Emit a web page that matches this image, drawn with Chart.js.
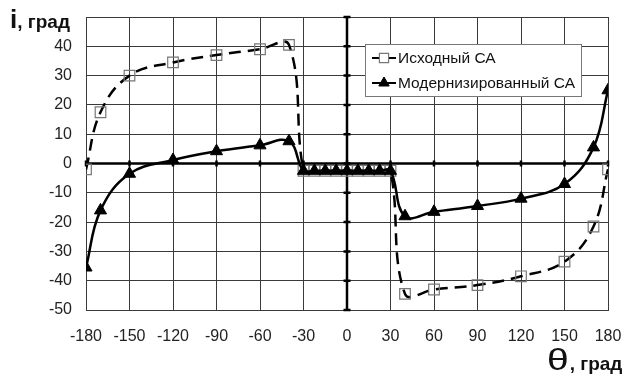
<!DOCTYPE html>
<html>
<head>
<meta charset="utf-8">
<script src="https://cdn.jsdelivr.net/npm/chart.js@4.4.1/dist/chart.umd.min.js"></script>
<style>
  html, body { margin: 0; padding: 0; background: #fff; }
  #wrap { position: relative; width: 635px; height: 376px; }
  canvas { position: absolute; left: 0; top: 0; }
  .ttl { position: absolute; font-family: "Liberation Sans", Arial, sans-serif; font-weight: bold; color: #111; white-space: nowrap; line-height: 1; }
  .th { display: inline-block; font-size: 30px; font-weight: normal; transform: scaleX(1.3); transform-origin: left center; margin-right: 6px; }
</style>
</head>
<body>
<div id="wrap">
  <canvas id="c" width="635" height="376"></canvas>
  <div class="ttl" style="left:10px; top:6px;"><span style="font-size:26px;">i</span><span style="font-size:19px;">, град</span></div>
  <div class="ttl" style="left:547px; top:345px;"><span class="th">θ</span><span style="font-size:19px;">, град</span></div>
</div>
<script>
// ---- data ----
const seriesLabels = ["Исходный СА", "Модернизированный СА"];
const thetaOriginal = [-180, -170, -150, -120, -90, -60, -40, -30, -22.5, -15, -7.5, 0, 7.5, 15, 22.5, 30, 40, 60, 90, 120, 150, 170, 180];
const iOriginal     = [-2, 17.5, 30, 34.5, 37, 39, 40.5, -2.5, -2.5, -2.5, -2.5, -2.5, -2.5, -2.5, -2.5, -2.5, -44.5, -43, -41.5, -38.5, -33.5, -21.5, -2];
const thetaModern   = [-180, -170, -150, -120, -90, -60, -40, -30, -22.5, -15, -7.5, 0, 7.5, 15, 22.5, 30, 40, 60, 90, 120, 150, 170, 180];
const iModern       = [-35.5, -16, -3.5, 1.2, 4.2, 6.2, 7.6, -2.5, -2.5, -2.5, -2.5, -2.5, -2.5, -2.5, -2.5, -2.5, -18, -16.5, -14.5, -12, -7, 5.5, 25];
const xTicks = [-180, -150, -120, -90, -60, -30, 0, 30, 60, 90, 120, 150, 180];
const yTicks = [-50, -40, -30, -20, -10, 0, 10, 20, 30, 40, 50];

const toPts = (xs, ys) => xs.map((x, k) => ({ x: x, y: ys[k] }));
const FONT = '"Liberation Sans", Arial, sans-serif';

// the two thick zero axes with their small tick marks
const axesPlugin = {
  id: 'axesPlugin',
  beforeDatasetsDraw(chart) {
    const { ctx, chartArea: a, scales: { x, y } } = chart;
    ctx.save();
    ctx.setLineDash([]);
    const x0 = x.getPixelForValue(0), y0 = y.getPixelForValue(0);
    ctx.strokeStyle = '#000';
    ctx.lineWidth = 2.5;
    ctx.beginPath();
    ctx.moveTo(x0, a.top); ctx.lineTo(x0, a.bottom);
    ctx.moveTo(a.left, y0); ctx.lineTo(a.right, y0);
    ctx.stroke();
    ctx.beginPath();
    yTicks.forEach(v => {
      const py = y.getPixelForValue(v);
      ctx.moveTo(x0 - 3.5, py); ctx.lineTo(x0 + 3.5, py);
    });
    xTicks.forEach(v => {
      const px = x.getPixelForValue(v);
      ctx.moveTo(px, y0 - 3); ctx.lineTo(px, y0 + 3);
    });
    ctx.stroke();
    ctx.restore();
  }
};

const boxLegend = {
  id: 'boxLegend',
  afterDraw(chart) {
    const { ctx } = chart;
    const bx = 365, by = 44, bw = 216, bh = 52;
    ctx.save();
    ctx.fillStyle = '#fff';
    ctx.fillRect(bx, by, bw, bh);
    ctx.strokeStyle = '#777';
    ctx.lineWidth = 1;
    ctx.strokeRect(bx + 0.5, by + 0.5, bw, bh);
    ctx.font = '15.5px ' + FONT;
    ctx.textBaseline = 'middle';
    chart.data.datasets.forEach((ds, k) => {
      const cy = by + 14 + k * 25;
      ctx.strokeStyle = '#000';
      ctx.lineWidth = 2;
      ctx.setLineDash([]);
      ctx.beginPath(); ctx.moveTo(bx + 7, cy); ctx.lineTo(bx + 31, cy); ctx.stroke();
      ctx.strokeStyle = ds.pointBorderColor;
      ctx.fillStyle = k === 0 ? '#fff' : ds.pointBackgroundColor;
      ctx.lineWidth = ds.pointBorderWidth;
      Chart.helpers.drawPoint(ctx, {
        pointStyle: ds.pointStyle, radius: ds.pointRadius - 1,
        borderWidth: ds.pointBorderWidth
      }, bx + 19, cy);
      ctx.fillStyle = '#111';
      ctx.fillText(ds.label, bx + 33, cy + 1);
    });
    ctx.restore();
  }
};

new Chart(document.getElementById('c'), {
  type: 'scatter',
  data: {
    datasets: [
      {
        label: seriesLabels[0],
        data: toPts(thetaOriginal, iOriginal),
        showLine: true,
        borderColor: '#000',
        borderWidth: 2.5,
        borderDash: [12, 7],
        tension: 0.4,
        pointStyle: 'rect',
        pointRadius: 7.5,
        pointBorderWidth: 1.2,
        pointBorderColor: '#777',
        pointBackgroundColor: 'rgba(255,255,255,0)',
        order: 1
      },
      {
        label: seriesLabels[1],
        data: toPts(thetaModern, iModern),
        showLine: true,
        borderColor: '#000',
        borderWidth: 2.5,
        tension: 0.4,
        pointStyle: 'triangle',
        pointRadius: 7,
        pointBorderWidth: 1,
        pointBorderColor: '#000',
        pointBackgroundColor: '#000',
        order: 0
      }
    ]
  },
  options: {
    responsive: false,
    animation: false,
    devicePixelRatio: 1,
    layout: { padding: { left: 0, top: 17, right: 27, bottom: 0 } },
    plugins: { legend: { display: false }, tooltip: { enabled: false } },
    scales: {
      x: {
        type: 'linear', min: -180, max: 180,
        afterBuildTicks: s => { s.ticks = xTicks.map(v => ({ value: v })); },
        afterFit: s => { s.height = 66; s.paddingLeft = 0; s.paddingRight = 0; },
        grid: { display: true, color: '#3a3a3a', lineWidth: 1, drawTicks: false },
        border: { display: true, color: '#3a3a3a', width: 1 },
        ticks: { padding: 17, color: '#222', maxRotation: 0, autoSkip: false,
                 font: { family: FONT, size: 16 } }
      },
      y: {
        type: 'linear', min: -50, max: 50,
        afterBuildTicks: s => { s.ticks = yTicks.map(v => ({ value: v })); },
        afterFit: s => { s.width = 86; s.paddingTop = 0; s.paddingBottom = 0; },
        grid: { display: true, color: '#3a3a3a', lineWidth: 1, drawTicks: false },
        border: { display: true, color: '#3a3a3a', width: 1 },
        ticks: { padding: 14, color: '#222', autoSkip: false,
                 callback: v => (v === 50 ? '' : v),
                 font: { family: FONT, size: 16 } }
      }
    }
  },
  plugins: [axesPlugin, boxLegend]
});
</script>
</body>
</html>
